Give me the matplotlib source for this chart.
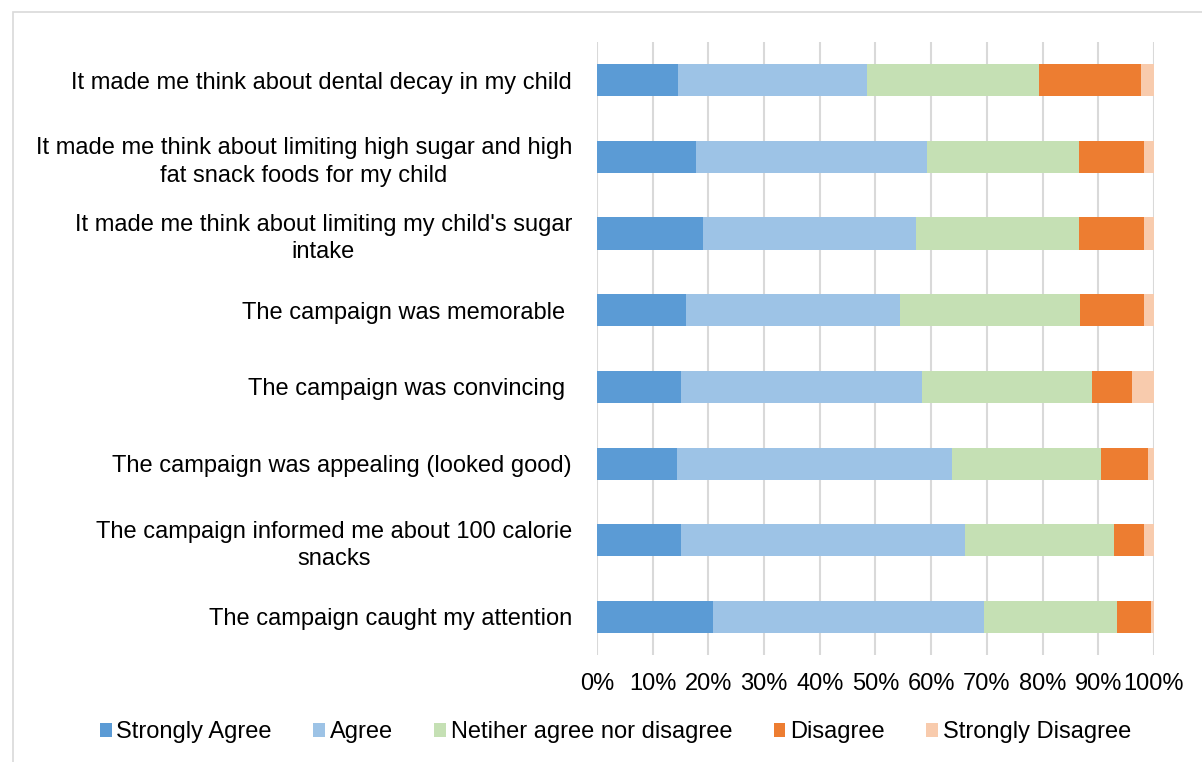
import matplotlib.pyplot as plt
import matplotlib.patches as patches
import numpy as np

plt.rcParams['font.family'] = ['Liberation Sans', 'DejaVu Sans']

# Statements, bottom to top as drawn
statements = [
    "The campaign caught my attention",
    "The campaign informed me about 100 calorie\nsnacks",
    "The campaign was appealing (looked good)",
    "The campaign was convincing ",
    "The campaign was memorable ",
    "It made me think about limiting my child's sugar\nintake",
    "It made me think about limiting high sugar and high\nfat snack foods for my child",
    "It made me think about dental decay in my child",
]

# Percentages (same order as statements)
strongly_agree = [20.9, 15.1, 14.4, 15.0, 16.0, 19.0, 17.8, 14.5]
agree = [48.6, 51.0, 49.3, 43.4, 38.4, 38.2, 41.4, 34.0]
neither = [23.9, 26.7, 26.8, 30.4, 32.4, 29.3, 27.4, 30.8]
disagree = [6.1, 5.5, 8.4, 7.3, 11.5, 11.8, 11.7, 18.4]
strongly_disagree = [0.5, 1.7, 1.1, 3.9, 1.7, 1.7, 1.7, 2.3]

series_names = ["Strongly Agree", "Agree", "Netiher agree nor disagree",
                "Disagree", "Strongly Disagree"]
colors = ["#5B9BD5", "#9DC3E6", "#C5E0B4", "#ED7D31", "#F8CBAD"]

fig = plt.figure(figsize=(12.02, 7.62), dpi=100)
ax = fig.add_axes([0.4967, 0.140, 0.9600 - 0.4967, 0.945 - 0.140])

y = np.arange(len(statements))
left = np.zeros(len(statements))
for name, vals, c in zip(series_names,
                         [strongly_agree, agree, neither, disagree, strongly_disagree],
                         colors):
    vals = np.array(vals)
    ax.barh(y, vals, left=left, height=0.42, color=c, label=name, zorder=3)
    left += vals

ax.set_xlim(0, 100)
ax.set_ylim(-0.5, len(statements) - 0.5)
ax.set_xticks(np.arange(0, 101, 10))
ax.set_xticklabels([f"{v}%" for v in range(0, 101, 10)])
ax.set_yticks(y)
ax.set_yticklabels(statements, multialignment='center', linespacing=1.3)
ax.tick_params(axis='both', length=0, labelsize=17)
ax.tick_params(axis='y', pad=18)
ax.tick_params(axis='x', pad=13)
ax.xaxis.grid(True, color='#d9d9d9', linewidth=1.5, zorder=0)
for s in ax.spines.values():
    s.set_visible(False)

fig.legend(loc='center', bbox_to_anchor=(0.512, 0.039), ncol=5, frameon=False,
           fontsize=17, handlelength=0.5, handleheight=0.5, handletextpad=0.2,
           columnspacing=1.75)

# chart area border (cropped on the right and bottom)
fig.patches.append(patches.Rectangle((0.0105, -0.2), 1.2, 0.2 + 0.984,
                                     transform=fig.transFigure, fill=False,
                                     edgecolor='#d9d9d9', linewidth=1.2))

fig.savefig("out.png", dpi=100)
